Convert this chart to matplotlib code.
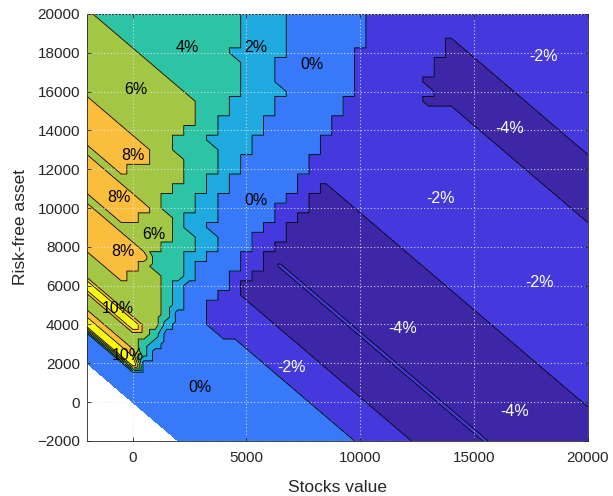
import numpy as np
import matplotlib.pyplot as plt
import matplotlib.tri as mtri

plt.rcParams['font.family'] = ['Liberation Sans', 'DejaVu Sans']

# grid nodes, 500 apart (top row first, same order as the map below)
stocks = np.arange(-2000, 20001, 500)
riskfree = np.arange(20000, -2001, -500)

# expected return band at every node, run-length coded per row
# W = outside the domain, a = -4%, s = thin -2% sliver, b = -2%,
# 0/2/4/6/8 = that %, T = 10% and above
return_map = [
    "6:1 4:13 2:4 0:7 b:20",
    "6:2 4:12 2:4 0:7 b:20",
    "6:3 4:11 2:4 0:7 b:20",
    "6:4 4:10 2:4 0:7 b:7 a:1 b:12",
    "6:5 4:8 2:5 0:6 b:8 a:2 b:11",
    "6:6 4:8 2:3 0:7 b:7 a:4 b:10",
    "6:7 4:7 2:3 0:7 b:7 a:5 b:9",
    "6:8 4:6 2:3 0:7 b:6 a:7 b:8",
    "6:9 4:5 2:4 0:6 b:7 a:7 b:7",
    "8:1 6:9 4:3 2:4 0:6 b:7 a:9 b:6",
    "8:2 6:8 4:3 2:4 0:6 b:10 a:7 b:5",
    "8:3 6:7 4:2 2:4 0:6 b:12 a:7 b:4",
    "8:4 6:5 4:3 2:4 0:6 b:13 a:7 b:3",
    "8:5 6:3 4:3 2:4 0:6 b:15 a:7 b:2",
    "6:1 8:5 6:2 4:4 2:3 0:6 b:16 a:7 b:1",
    "8:1 6:1 8:4 6:3 4:3 2:2 0:6 b:18 a:7",
    "8:2 6:1 8:1 6:5 4:3 2:2 0:6 b:19 a:6",
    "8:3 6:6 4:2 2:2 0:6 b:21 a:5",
    "8:4 6:4 4:3 2:2 0:6 b:2 a:1 b:19 a:4",
    "6:1 8:4 6:2 4:3 2:2 0:6 b:2 a:3 b:19 a:3",
    "8:1 6:1 8:4 6:1 4:3 2:2 0:5 b:3 a:4 b:19 a:2",
    "8:2 6:1 8:2 6:3 4:1 2:3 0:5 b:2 a:6 b:19 a:1",
    "8:3 6:5 4:1 2:2 0:5 b:2 a:8 b:19",
    "8:4 6:4 4:2 2:2 0:3 b:3 a:9 b:18",
    "8:5 6:2 4:3 2:2 0:3 b:2 a:11 b:17",
    "6:1 8:5 4:3 2:2 0:3 b:2 a:13 b:16",
    "6:2 8:3 6:1 4:3 2:1 0:4 b:2 a:1 s:1 a:12 b:15",
    "6:3 8:1 6:3 4:2 2:1 0:3 b:2 a:3 s:1 a:12 b:14",
    "T:1 6:6 4:1 2:1 0:4 b:1 a:5 s:1 a:12 b:13",
    "6:1 T:1 6:5 4:1 2:1 0:3 b:2 a:6 s:1 a:12 b:12",
    "6:2 T:1 6:4 4:1 2:1 0:2 b:4 a:6 s:1 a:12 b:11",
    "8:1 6:2 T:1 6:3 4:1 0:3 b:5 a:6 s:1 a:12 b:10",
    "T:1 8:1 6:2 T:1 6:2 2:1 0:3 b:6 a:6 s:1 a:12 b:9",
    "0:1 T:1 8:1 6:3 4:1 0:5 b:6 a:6 s:1 a:12 b:8",
    "0:2 T:1 8:1 6:1 4:1 2:1 0:7 b:5 a:6 s:1 a:12 b:7",
    "0:3 T:1 8:1 4:1 0:9 b:5 a:6 s:1 a:12 b:6",
    "0:4 T:1 0:11 b:5 a:6 s:1 a:12 b:5",
    "W:1 0:16 b:5 a:6 s:1 a:12 b:4",
    "W:2 0:16 b:5 a:6 s:1 a:12 b:3",
    "W:3 0:16 b:5 a:6 s:1 a:12 b:2",
    "W:4 0:16 b:5 a:6 s:1 a:12 b:1",
    "W:5 0:16 b:5 a:6 s:1 a:12",
    "W:6 0:16 b:5 a:6 s:1 a:11",
    "W:7 0:16 b:5 a:6 s:1 a:10",
    "W:8 0:16 b:5 a:6 s:1 a:9",
]
band_value = {'W': np.nan, 'a': -4, 's': -2.7, 'b': -2, '0': 0, '2': 2,
              '4': 4, '6': 6, '8': 8, 'T': 12}

# labels placed inside the regions
label_text = ['4%', '2%', '0%', '6%', '8%', '8%', '6%', '8%', '10%', '10%',
              '0%', '0%', '-2%', '-2%', '-4%', '-2%', '-2%', '-4%', '-4%']
label_x = [2400, 5430, 7880, 160, 30, -580, 950, -410, -630, -230,
           5430, 2970, 6960, 18060, 16570, 13540, 17880, 11870, 16790]
label_y = [18290, 18290, 17410, 16130, 12730, 10560, 8660, 7780, 4840, 2420,
           10410, 770, 1800, 17830, 14120, 10510, 6180, 3810, -460]

levels = [-5, -3, -1, 1, 3, 5, 7, 9, 13]
band_colors = ['#3d27a6', '#4539dd', '#3779f9', '#1ea9df', '#2dc3a5',
               '#a3c645', '#fbbd3c', '#f8f90f']


def decode(row):
    vals = []
    for tok in row.split():
        c, n = tok.split(':')
        vals += [band_value[c]] * int(n)
    return (vals + [vals[-1]] * len(stocks))[:len(stocks)]


Z = np.array([decode(r) for r in return_map], dtype=float)
X, Y = np.meshgrid(stocks, riskfree)

# triangles split along the constant-wealth diagonal
nr, nc = Z.shape
idx = np.arange(nr * nc).reshape(nr, nc)
tris = []
for i in range(nr - 1):
    for j in range(nc - 1):
        ul, ur = idx[i, j], idx[i, j + 1]
        ll, lr = idx[i + 1, j], idx[i + 1, j + 1]
        tris.append([ll, lr, ul])
        tris.append([lr, ur, ul])
tris = np.array(tris)

z = Z.ravel()
outside = np.isnan(z)
tri_mask = outside[tris].any(axis=1)
z = np.where(outside, 0, z)
triang = mtri.Triangulation(X.ravel(), Y.ravel(), tris, mask=tri_mask)

fig = plt.figure(figsize=(6.13, 4.96), dpi=100)
ax = fig.add_axes([0.142, 0.111, 0.817, 0.861])

ax.tricontourf(triang, z, levels=levels, colors=band_colors)
ax.tricontour(triang, z, levels=levels[1:-1], colors='k', linewidths=0.6,
              linestyles='solid')

for t, lx, ly in zip(label_text, label_x, label_y):
    ax.text(lx, ly, t, ha='center', va='center', fontsize=11.5,
            color='white' if t.startswith('-') else 'black')

ax.set_xlim(-2000, 20000)
ax.set_ylim(-2000, 20000)
ax.set_xticks([0, 5000, 10000, 15000, 20000])
ax.set_yticks(np.arange(-2000, 20001, 2000))
ax.tick_params(direction='in', top=True, right=True, length=3, width=0.6,
               labelsize=11, colors='#262626')
ax.tick_params(axis='x', pad=7)
ax.tick_params(axis='y', pad=5)
ax.set_axisbelow(False)
ax.grid(True, color='#e8e8e8', linestyle=(0, (1, 2)), linewidth=0.8, alpha=0.85)
for s in ax.spines.values():
    s.set_color('#262626')
    s.set_linewidth(0.6)

ax.set_xlabel('Stocks value', fontsize=12.5, color='#262626', labelpad=11)
ax.set_ylabel('Risk-free asset', fontsize=12.5, color='#262626', labelpad=7)

plt.savefig('out.png', dpi=100)
plt.close()
